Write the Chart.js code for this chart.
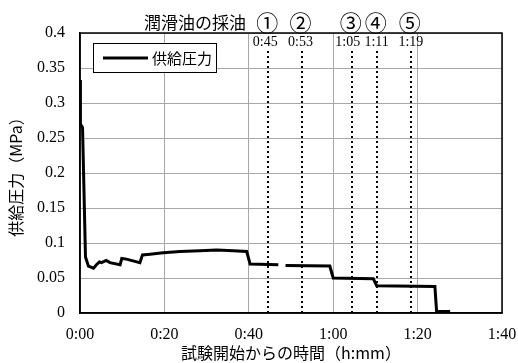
<!DOCTYPE html>
<html>
<head>
<meta charset="utf-8">
<script src="https://cdn.jsdelivr.net/npm/chart.js@4"></script>
<style>
  html, body { margin: 0; padding: 0; background: #fff; }
  #wrap { width: 518px; height: 363px; }
</style>
</head>
<body>
<div id="wrap"><canvas id="myChart" width="518" height="363"></canvas></div>
<script>
// elapsed minutes and supply pressure (MPa), null = gap in record
const minutes = [0, 0.1, 0.6, 1.3, 2.0, 3.2, 3.9, 4.6, 5.1, 6.2, 7.1, 9.5, 9.9, 11.0, 14.2, 14.8,
  16.6, 19.7, 23.7, 28.4, 32.4, 36.3, 39.5, 40.3, 47.0, 47.5, 48.7, 59.2, 60.0, 69.5, 70.3,
  84.1, 84.5, 87.7];
const pressure = [0.333, 0.27, 0.265, 0.08, 0.067, 0.064, 0.069, 0.073, 0.072, 0.075, 0.072, 0.069,
  0.078, 0.077, 0.072, 0.083, 0.084, 0.086, 0.088, 0.089, 0.090, 0.089, 0.088, 0.070, 0.069, null,
  0.068, 0.067, 0.050, 0.049, 0.039, 0.038, 0.002, 0.002];
// oil sampling times (where the dotted lines sit) and their labels
const sampleMinutes = [44.6, 52.5, 64.4, 70.3, 78.4];
const sampleLabels = ['0:45', '0:53', '1:05', '1:11', '1:19'];
const sampleMarks = ['①', '②', '③', '④', '⑤'];
const seriesName = '供給圧力';
const sampleTitle = '潤滑油の採油';

const serif = '"Liberation Serif", "DejaVu Serif", serif';
const jp = '"Noto Sans CJK JP", sans-serif';

function toHmm(v) {
  const h = Math.floor(v / 60);
  const m = Math.round(v % 60);
  return h + ':' + (m < 10 ? '0' : '') + m;
}

const overlay = {
  id: 'overlay',
  afterDatasetsDraw(chart) {
    const ctx = chart.ctx;
    const area = chart.chartArea;
    const xs = chart.scales.x;
    const labelShift = [-3, -1, -4, 0, 0];
    ctx.save();
    // sampling lines
    ctx.strokeStyle = '#000';
    ctx.lineWidth = 2;
    ctx.setLineDash([2, 3]);
    sampleMinutes.forEach((m) => {
      const px = Math.round(xs.getPixelForValue(m));
      ctx.beginPath();
      ctx.moveTo(px, area.top + 18);
      ctx.lineTo(px, area.bottom);
      ctx.stroke();
    });
    ctx.setLineDash([]);
    // labels
    ctx.fillStyle = '#000';
    ctx.textAlign = 'center';
    ctx.textBaseline = 'middle';
    sampleMinutes.forEach((m, i) => {
      const px = xs.getPixelForValue(m);
      ctx.font = '14px ' + serif;
      ctx.fillText(sampleLabels[i], px + labelShift[i], area.top + 9);
      ctx.font = '22px ' + jp;
      ctx.fillText(sampleMarks[i], px - 1, area.top - 10);
    });
    ctx.font = '17px ' + jp;
    ctx.textAlign = 'right';
    ctx.fillText(sampleTitle, 246, area.top - 10);
    // frame
    ctx.lineWidth = 1.5;
    ctx.strokeRect(area.left, area.top, area.right - area.left, area.bottom - area.top);
    // legend
    ctx.fillStyle = '#fff';
    ctx.fillRect(93.5, 43.5, 123, 29);
    ctx.lineWidth = 1;
    ctx.strokeRect(93.5, 43.5, 123, 29);
    ctx.lineWidth = 3;
    ctx.beginPath();
    ctx.moveTo(103, 58);
    ctx.lineTo(148, 58);
    ctx.stroke();
    ctx.fillStyle = '#000';
    ctx.textAlign = 'left';
    ctx.font = '15px ' + jp;
    ctx.fillText(seriesName, 152, 58);
    ctx.restore();
  }
};

const points = minutes.map((m, i) => ({ x: m, y: pressure[i] }));

new Chart(document.getElementById('myChart').getContext('2d'), {
  type: 'line',
  data: {
    datasets: [{
      label: seriesName,
      data: points,
      borderColor: '#000',
      borderWidth: 3,
      pointRadius: 0,
      tension: 0,
      spanGaps: false,
    }]
  },
  options: {
    responsive: false,
    animation: false,
    layout: { padding: { top: 33, right: 16, left: 0, bottom: 0 } },
    plugins: { legend: { display: false }, tooltip: { enabled: false } },
    scales: {
      x: {
        type: 'linear',
        min: 0,
        max: 100,
        afterFit: (s) => {
          s.height = 50;
          s.paddingLeft = 0;
          s.paddingRight = 0;
        },
        ticks: {
          stepSize: 20,
          callback: (v) => toHmm(v),
          color: '#000',
          padding: 12,
          maxRotation: 0,
          font: { family: serif, size: 16 },
        },
        grid: { color: '#a8a8a8', lineWidth: 1, drawTicks: false },
        border: { color: '#000', width: 1.5 },
        title: {
          display: true,
          text: '試験開始からの時間（h:mm）',
          color: '#000',
          padding: { top: 0, bottom: 0 },
          font: { family: jp, size: 16 },
        },
      },
      y: {
        min: 0,
        max: 0.4,
        afterFit: (s) => { s.width = 80; },
        ticks: {
          stepSize: 0.05,
          callback: (v) => String(+v.toFixed(2)),
          color: '#000',
          padding: 15,
          font: { family: serif, size: 16 },
        },
        grid: { color: '#a8a8a8', lineWidth: 1, drawTicks: false },
        border: { color: '#000', width: 1.5 },
        title: {
          display: true,
          text: '供給圧力（MPa）',
          color: '#000',
          padding: { top: 6, bottom: 0 },
          font: { family: jp, size: 16 },
        },
      },
    },
  },
  plugins: [overlay],
});
</script>
</body>
</html>
